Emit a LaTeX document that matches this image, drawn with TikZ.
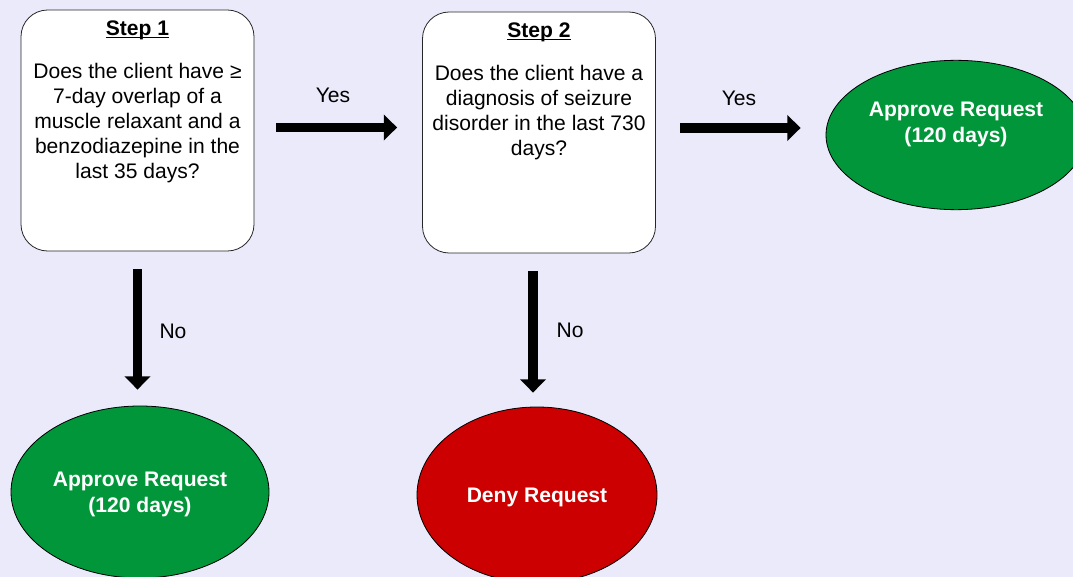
\documentclass[tikz,border=0pt]{standalone}
\usepackage{fontspec}
\setmainfont{Liberation Sans}
\usetikzlibrary{shapes.geometric}
\usetikzlibrary{positioning}
\usetikzlibrary{arrows.meta}
\definecolor{bglav}{RGB}{234,234,250}
\definecolor{okgreen}{RGB}{0,150,57}
\definecolor{denyred}{RGB}{204,0,0}
% underlined step title, rule close to the baseline
\newcommand{\steptitle}[1]{\underline{\raisebox{0pt}[\height][0pt]{\textbf{#1}}}}

\begin{document}
\begin{tikzpicture}[x=0.75pt,y=-0.75pt,
  every node/.style={font=\fontsize{15.8pt}{18.9pt}\selectfont},
  stepbox/.style={draw=black!85, line width=0.6pt, fill=white, rounded corners=20pt,
                  minimum width=174.75pt, minimum height=180.75pt, inner sep=0pt},
  steptext/.style={anchor=north, align=center, inner sep=0pt},
  oval/.style={ellipse, draw=black, line width=0.6pt, inner sep=0pt},
  ovaltext/.style={align=center, inner sep=0pt, text=white,
                   font=\fontsize{15.8pt}{19.5pt}\selectfont\bfseries},
  bigarrow/.style={line width=7pt, -{Triangle[length=10pt, width=19pt]}}]

%---------------------------------------
% Page and background
%---------------------------------------
\useasboundingbox (0,0) rectangle (1073,577);
\clip (0,0) rectangle (1073,577);
\fill[bglav] (0,0) rectangle (1073,577);

%---------------------------------------
% Question boxes
%---------------------------------------
\node[stepbox] (step1) at (137.5,130.5) {};
\node[steptext] (q1) at ([yshift=-8.25pt]step1.north)
  {\steptitle{Step 1}\\[13pt]
   Does the client have ≥\\ 7-day overlap of a\\ muscle relaxant and a\\
   benzodiazepine in the\\ last 35 days?};

\node[stepbox] (step2) at (539,132.5) {};
\node[steptext] (q2) at ([yshift=-8.25pt]step2.north)
  {\steptitle{Step 2}\\[13pt]
   Does the client have a\\ diagnosis of seizure\\ disorder in the last 730\\ days?};

%---------------------------------------
% Outcomes
%---------------------------------------
\node[oval, fill=okgreen, minimum width=195pt, minimum height=112pt]
  (okright) at (956,135) {};
\node[ovaltext] (okrighttxt) at ([yshift=8pt]okright.center) {Approve Request\\(120 days)};

\node[oval, fill=okgreen, minimum width=193.5pt, minimum height=129pt]
  (okleft) at (140,492) {};
\node[ovaltext] (oklefttxt) at ([yshift=-1.5pt]okleft.center) {Approve Request\\(120 days)};

\node[oval, fill=denyred, minimum width=180pt, minimum height=132pt]
  (deny) at (537,495) {};
\node[ovaltext] (denytxt) at ([yshift=-1.5pt]deny.center) {Deny Request};

%---------------------------------------
% Arrows and labels
%---------------------------------------
\draw[bigarrow] ([xshift=16.5pt,yshift=2.25pt]step1.east)
  -- ([xshift=-18.75pt,yshift=2.25pt]step1.east -| step2.west);
\node (yes1) at (333,95) {Yes};

\draw[bigarrow] ([xshift=18pt,yshift=3.4pt]step2.east)
  -- ([xshift=-18.75pt,yshift=3.4pt]step2.east -| okright.west);
\node (yes2) at (739,98) {Yes};

\draw[bigarrow] ([yshift=-13.5pt]step1.south)
  -- ([yshift=12pt]step1.south |- okleft.north);
\node (no1) at (173,331) {No};

\draw[bigarrow] ([xshift=-4.5pt,yshift=-13.5pt]step2.south)
  -- ([xshift=-4.5pt,yshift=10.5pt]step2.south |- deny.north);
\node (no2) at (570,330) {No};

\end{tikzpicture}
\end{document}
